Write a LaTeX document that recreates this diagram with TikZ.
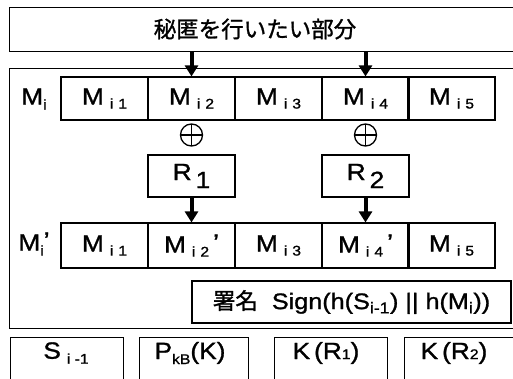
\documentclass[tikz,border=0pt]{standalone}
\usepackage{fontspec}
\setmainfont{Liberation Sans}[FakeStretch=1.12,FakeBold=1.2]
\newfontfamily\jp{Noto Sans CJK JP}[FakeBold=1.2]
\usetikzlibrary{arrows.meta}
\newcommand\lo[2]{\raisebox{-#1pt}{\fontsize{14}{14}\selectfont #2}}
\begin{document}
\begin{tikzpicture}[x=1pt,y=-1pt,
  box/.style={draw, line width=1.1pt, inner sep=0pt},
  cell/.style={box, minimum width=87pt, minimum height=43pt},
  big/.style={font=\fontsize{23.5}{25}\selectfont},
  bigarrow/.style={line width=4pt, -{Triangle[width=13pt,length=11pt]}},
  xorc/.style={circle, draw, line width=1.3pt, minimum size=22pt, inner sep=0pt,
    path picture={\draw[line width=1.3pt] (path picture bounding box.north) -- (path picture bounding box.south)
      (path picture bounding box.west) -- (path picture bounding box.east);}}]
\useasboundingbox (0,0) rectangle (513,379);
\clip (0,0) rectangle (513,379);
% top box
\node[box, anchor=north west, minimum width=530pt, minimum height=44pt] (top) at (9,7) {};
\node[font=\jp\fontsize{22.5}{24}\selectfont] (ttl) at (255,29) {秘匿を行いたい部分};
% outer box
\node[box, anchor=north west, minimum width=530pt, minimum height=260pt] (outer) at (9,68) {};
% row 1
\node[big] (lab1) at (34,99) {M\lo{5}{i}};
\foreach \k/\x in {1/104.5,2/191.5,3/278.5,4/365.5,5/451.5}
  \node[cell, big] (c\k) at (\x,98.5) {M\hspace{6pt}\lo{4}{i\hspace{5pt}\k}};
% xor circles
\node[xorc] (x1) at (191.5,135) {};
\node[xorc] (x2) at (365.5,135) {};
% R boxes
\node[box, big, minimum width=87pt, minimum height=42pt] (r1) at (191.5,176) {R\,\raisebox{-8pt}{1}};
\node[box, big, minimum width=87pt, minimum height=42pt] (r2) at (365.5,176) {R\,\raisebox{-8pt}{2}};
% row 2
\node[big] (lab2) at (34,244) {M\lo{5}{i}\raisebox{2pt}{'}};
\node[cell, big, minimum height=45pt] (d1) at (104.5,245.5) {M\hspace{6pt}\lo{4}{i\hspace{5pt}1}};
\node[cell, big, minimum height=45pt] (d2) at (191.5,245.5) {M\hspace{6pt}\lo{4}{i\hspace{5pt}2}\hspace{4pt}\raisebox{2pt}{'}};
\node[cell, big, minimum height=45pt] (d3) at (278.5,245.5) {M\hspace{6pt}\lo{4}{i\hspace{5pt}3}};
\node[cell, big, minimum height=45pt] (d4) at (365.5,245.5) {M\hspace{6pt}\lo{4}{i\hspace{5pt}4}\hspace{4pt}\raisebox{2pt}{'}};
\node[cell, big, minimum height=45pt] (d5) at (451.5,245.5) {M\hspace{6pt}\lo{4}{i\hspace{5pt}5}};
% signature
\node[box, minimum width=319pt, minimum height=42pt, font=\fontsize{22.5}{24}\selectfont] (sig) at (351.5,302) {{\jp 署名}\ \ Sign(h(S\textsubscript{i-1}) || h(M\textsubscript{i}))};
% bottom boxes
\node[box, anchor=north west, minimum width=113pt, minimum height=60pt] (b1) at (10,337) {};
\node[box, anchor=north west, minimum width=109pt, minimum height=60pt] (b2) at (139,337) {};
\node[box, anchor=north west, minimum width=113pt, minimum height=60pt] (b3) at (274,337) {};
\node[box, anchor=north west, minimum width=130pt, minimum height=60pt] (b4) at (404,337) {};
\node[big] (t1) at (66,353) {S\hspace{6pt}\lo{5}{i -1}};
\node[big] (t2) at (190,353) {P\lo{5}{kB}(K)};
\node[big] (t3) at (326,353) {K\,(R\lo{0}{1})};
\node[big] (t4) at (454,353) {K\,(R\lo{0}{2})};
% arrows
\draw[bigarrow] (top.south -| c2.north) -- (c2.north);
\draw[bigarrow] (top.south -| c4.north) -- (c4.north);
\draw[bigarrow] (r1.south) -- (d2.north);
\draw[bigarrow] (r2.south) -- (d4.north);
\end{tikzpicture}
\end{document}
